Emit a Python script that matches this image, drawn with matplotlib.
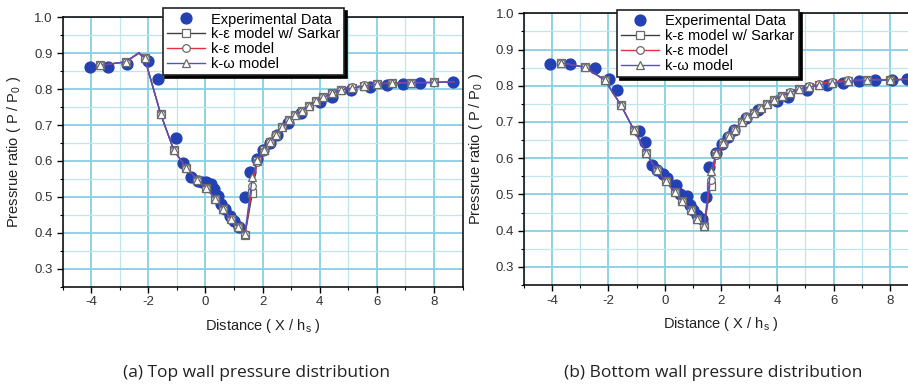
"""
Wall pressure distribution: experiment vs three turbulence models.
Two panels (top wall / bottom wall), saved as out.png.
"""

import matplotlib
matplotlib.use('Agg')
import matplotlib.pyplot as plt
from matplotlib.ticker import MultipleLocator

plt.rcParams['font.family'] = ['Liberation Sans', 'DejaVu Sans']
plt.rcParams['axes.unicode_minus'] = False  # plain hyphen on the tick labels

# ---- (a) top wall ----
top_exp_x = [-4.05, -3.40, -2.76, -2.00, -1.67, -1.02, -0.78, -0.50, -0.26, -0.12,
             0.03, 0.18, 0.30, 0.44, 0.55, 0.70, 0.86, 1.00, 1.16, 1.40, 1.56,
             1.79, 2.02, 2.26, 2.49, 2.89, 3.35, 4.00, 4.44, 5.10, 5.76, 6.34,
             6.93, 7.51, 8.68]
top_exp_y = [0.861, 0.861, 0.869, 0.879, 0.828, 0.664, 0.594, 0.556, 0.544, 0.541,
             0.541, 0.536, 0.522, 0.502, 0.481, 0.465, 0.448, 0.432, 0.417, 0.499, 0.568,
             0.606, 0.630, 0.650, 0.673, 0.706, 0.733, 0.763, 0.778, 0.798, 0.806, 0.812,
             0.815, 0.817, 0.819]

top_model_x = [-3.70, -2.80, -2.33, -2.13, -1.57, -1.11, -0.67, -0.29, 0.03, 0.35,
               0.62, 0.88, 1.15, 1.38, 1.64, 1.81, 2.05, 2.26, 2.47, 2.69,
               2.93, 3.14, 3.39, 3.61, 3.86, 4.12, 4.44, 4.75, 5.14, 5.55,
               6.02, 6.54, 7.21, 8.00, 8.70]
top_sarkar_y = [0.866, 0.876, 0.900, 0.886, 0.731, 0.630, 0.581, 0.548, 0.525, 0.494,
                0.467, 0.439, 0.416, 0.394, 0.511, 0.601, 0.630, 0.652, 0.673, 0.694,
                0.713, 0.729, 0.740, 0.754, 0.766, 0.777, 0.789, 0.798, 0.803, 0.809,
                0.814, 0.817, 0.817, 0.819, 0.820]
top_keps_y = [0.866, 0.876, 0.900, 0.886, 0.731, 0.630, 0.581, 0.548, 0.525, 0.494,
              0.467, 0.439, 0.416, 0.396, 0.530, 0.598, 0.629, 0.652, 0.673, 0.694,
              0.713, 0.729, 0.740, 0.754, 0.766, 0.777, 0.789, 0.798, 0.805, 0.811,
              0.815, 0.818, 0.818, 0.819, 0.820]
top_komega_y = [0.866, 0.876, 0.902, 0.887, 0.731, 0.630, 0.581, 0.548, 0.525, 0.494,
                0.467, 0.439, 0.416, 0.398, 0.555, 0.603, 0.631, 0.652, 0.673, 0.694,
                0.713, 0.729, 0.740, 0.754, 0.766, 0.777, 0.789, 0.798, 0.803, 0.809,
                0.814, 0.817, 0.817, 0.819, 0.820]

# ---- (b) bottom wall ----
bot_exp_x = [-4.06, -3.35, -2.48, -1.99, -1.69, -0.91, -0.71, -0.46, -0.27, -0.05,
             0.09, 0.40, 0.54, 0.78, 0.89, 1.01, 1.15, 1.31, 1.46, 1.56, 1.82,
             2.03, 2.24, 2.46, 2.88, 3.33, 4.00, 4.39, 5.06, 5.75, 6.34, 6.91,
             7.47, 8.06, 8.62]
bot_exp_y = [0.860, 0.860, 0.848, 0.818, 0.789, 0.674, 0.646, 0.582, 0.568, 0.557,
             0.545, 0.527, 0.501, 0.495, 0.472, 0.458, 0.442, 0.431, 0.493, 0.575, 0.614,
             0.640, 0.658, 0.679, 0.711, 0.734, 0.759, 0.770, 0.789, 0.801, 0.807, 0.812,
             0.815, 0.816, 0.819]

bot_model_x = [-3.70, -2.84, -2.13, -1.56, -1.10, -0.65, -0.29, 0.04, 0.36, 0.63,
               0.92, 1.15, 1.40, 1.63, 1.84, 2.08, 2.29, 2.50, 2.73, 2.93,
               3.17, 3.41, 3.62, 3.88, 4.15, 4.45, 4.78, 5.14, 5.49, 5.96,
               6.52, 7.20, 8.00, 8.70]
bot_sarkar_y = [0.864, 0.851, 0.816, 0.747, 0.679, 0.614, 0.567, 0.536, 0.506, 0.481,
                0.456, 0.432, 0.412, 0.524, 0.612, 0.642, 0.662, 0.679, 0.699, 0.714,
                0.726, 0.738, 0.750, 0.761, 0.772, 0.781, 0.791, 0.796, 0.803, 0.807,
                0.812, 0.815, 0.816, 0.818]
bot_keps_y = [0.864, 0.851, 0.816, 0.747, 0.679, 0.614, 0.567, 0.536, 0.506, 0.481,
              0.456, 0.432, 0.413, 0.540, 0.608, 0.640, 0.661, 0.679, 0.699, 0.714,
              0.726, 0.738, 0.750, 0.761, 0.772, 0.782, 0.792, 0.798, 0.806, 0.811,
              0.815, 0.817, 0.817, 0.818]
bot_komega_y = [0.864, 0.851, 0.816, 0.747, 0.679, 0.614, 0.567, 0.536, 0.506, 0.481,
                0.456, 0.432, 0.414, 0.564, 0.614, 0.642, 0.662, 0.679, 0.699, 0.714,
                0.726, 0.738, 0.750, 0.761, 0.772, 0.781, 0.791, 0.796, 0.803, 0.807,
                0.812, 0.815, 0.816, 0.818]

LABELS = ['Experimental Data', 'k-\u03b5 model w/ Sarkar', 'k-\u03b5 model', 'k-\u03c9 model']
CAPTIONS = ['(a) Top wall pressure distribution', '(b) Bottom wall pressure distribution']

EXP_COLOR = '#2341b2'
MARKER_EDGE = '#6a6a6a'


def draw_panel(ax, exp_x, exp_y, mx, sarkar, keps, komega, skip, legend_anchor):
    ax.plot(exp_x, exp_y, 'o', color=EXP_COLOR, markersize=7.8, zorder=3, label=LABELS[0])

    # markers only on the model grid points (no marker on the peak / last vertex)
    keep = [i for i in range(len(mx)) if i not in skip]
    common = dict(linewidth=1.0, markersize=5.5, markerfacecolor='white',
                  markeredgecolor=MARKER_EDGE, markeredgewidth=0.9,
                  markevery=keep, zorder=4)
    ax.plot(mx, sarkar, 's-', color='#404040', label=LABELS[1], **common)
    ax.plot(mx, keps, 'o-', color='#e8303a', label=LABELS[2], **common)
    ax.plot(mx, komega, '^-', color='#5252c4', label=LABELS[3], **common)

    ax.set_xlim(-5, 9)
    ax.set_ylim(0.25, 1.0)
    ax.xaxis.set_major_locator(MultipleLocator(2))
    ax.xaxis.set_minor_locator(MultipleLocator(1))
    ax.yaxis.set_minor_locator(MultipleLocator(0.05))
    ax.set_yticks([0.3, 0.4, 0.5, 0.6, 0.7, 0.8, 0.9, 1.0])
    ax.set_yticklabels(['0.3', '0.4', '0.5', '0.6', '0.7', '0.8', '0.9', '1.0'])

    ax.grid(True, which='major', color='#86d0e0', linewidth=1.3, zorder=0)
    ax.grid(True, which='minor', color='#bfe6ef', linewidth=0.9, zorder=0)
    ax.set_axisbelow(True)

    ax.tick_params(which='major', direction='out', length=4, width=1.0,
                   labelsize=9.5, labelcolor='#333333', pad=3)
    ax.tick_params(which='minor', direction='out', length=2.5, width=0.8)
    for s in ax.spines.values():
        s.set_linewidth(1.1)

    ax.set_xlabel('Distance ( X / h$_\\mathregular{s}$ )', fontsize=10.5, color='#222222', labelpad=6)
    ax.set_ylabel('Pressrue ratio ( P / P$_\\mathregular{0}$ )', fontsize=10.5, color='#222222', labelpad=8)

    leg = ax.legend(loc='upper left', bbox_to_anchor=legend_anchor, fontsize=10.5,
                    frameon=True, fancybox=False, shadow={'color': 'black', 'alpha': 1.0},
                    handlelength=2.6, handletextpad=0.4, borderpad=0.3,
                    labelspacing=0.05, borderaxespad=0)
    leg.get_frame().set_edgecolor('#222222')
    leg.get_frame().set_linewidth(1.2)
    leg.set_zorder(10)


fig = plt.figure(figsize=(9.08, 3.85), dpi=100)
ax1 = fig.add_axes([0.069, 0.2553, 0.4405, 0.6997])
ax2 = fig.add_axes([0.5771, 0.2597, 0.4339, 0.7057])

draw_panel(ax1, top_exp_x, top_exp_y, top_model_x, top_sarkar_y, top_keps_y, top_komega_y,
           skip={2, len(top_model_x) - 1}, legend_anchor=(0.25, 1.034))
draw_panel(ax2, bot_exp_x, bot_exp_y, bot_model_x, bot_sarkar_y, bot_keps_y, bot_komega_y,
           skip={len(bot_model_x) - 1}, legend_anchor=(0.236, 1.012))

fig.text(0.282, 0.031, CAPTIONS[0], fontsize=12.5, family=['Open Sans', 'DejaVu Sans'],
         ha='center', va='center', color='#222222')
fig.text(0.785, 0.031, CAPTIONS[1], fontsize=12.5, family=['Open Sans', 'DejaVu Sans'],
         ha='center', va='center', color='#222222')

fig.savefig('out.png', dpi=100)
print('Saved: out.png')
